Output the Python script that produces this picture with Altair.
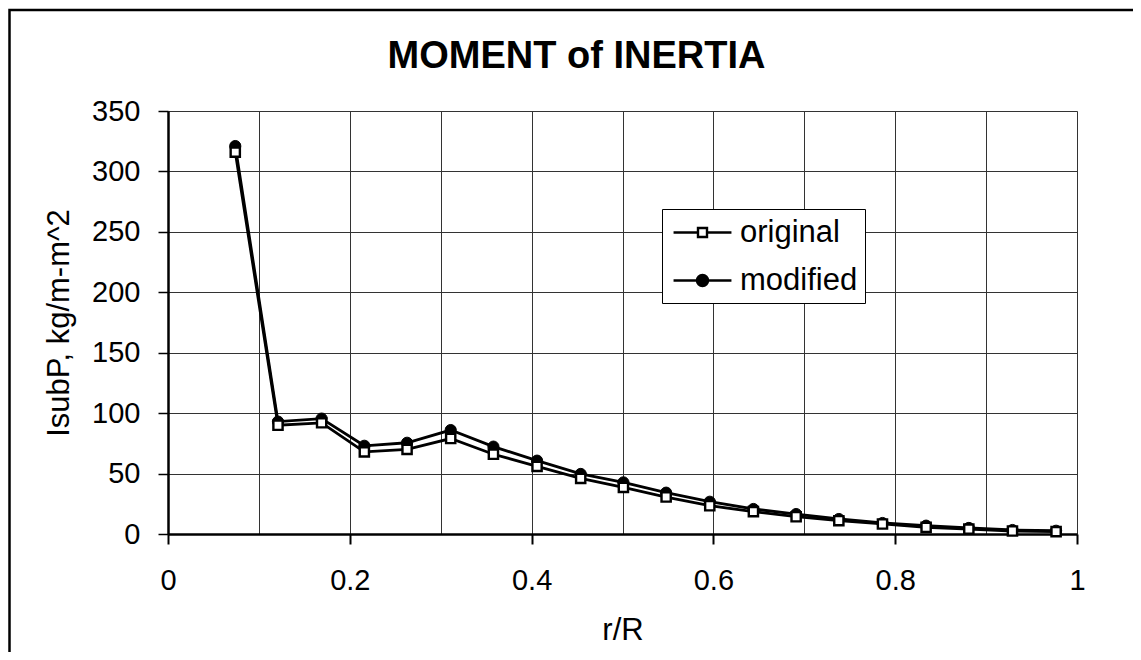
import altair as alt
import pandas as pd

# ---- data ----
R = [0.074, 0.121, 0.169, 0.216, 0.263, 0.311, 0.358, 0.406, 0.454, 0.501,
     0.548, 0.596, 0.644, 0.691, 0.738, 0.786, 0.834, 0.881, 0.929, 0.977]
ORIGINAL = [316, 90, 92, 68, 70, 79, 66, 56, 46, 38.6,
            30.6, 23.4, 18.5, 14.3, 11, 8.3, 5.5, 4, 2.5, 2]
MODIFIED = [321, 93, 95.5, 73, 75.5, 86, 72.3, 60.7, 49.7, 42.7,
            34.2, 26.7, 20.7, 16.5, 12.4, 9.1, 6.9, 5, 3.3, 2.7]
SERIES = ["original", "modified"]
X_TICKS = [0, 0.1, 0.2, 0.3, 0.4, 0.5, 0.6, 0.7, 0.8, 0.9, 1]
Y_TICKS = [0, 50, 100, 150, 200, 250, 300, 350]
TITLE = "MOMENT of INERTIA"
X_TITLE = "r/R"
Y_TITLE = "IsubP, kg/m-m^2"

FONT = "Liberation Sans"
W, H = 909, 423

df = pd.DataFrame({
    "r": R + R,
    "value": ORIGINAL + MODIFIED,
    "series": [SERIES[0]] * len(R) + [SERIES[1]] * len(R),
})

even_test = "round(datum.value*10) % 2 == 0"

x_axis = alt.Axis(
    values=X_TICKS, format=".1~f",
    labelExpr=f"({even_test}) ? datum.label : ''",
    tickOpacity={"condition": {"test": even_test, "value": 1}, "value": 0},
    grid=True, gridColor="#333333", gridWidth=1,
    tickColor="black", tickWidth=2, tickSize=10,
    domainColor="black", domainWidth=2.5,
    labelFont=FONT, labelFontSize=29, labelColor="black", labelPadding=22,
    labelFlush=False, labelOverlap=False,
    title=X_TITLE, titleFont=FONT, titleFontSize=31, titleFontWeight="normal",
    titleColor="black", titleBaseline="alphabetic", titleY=105,
)
y_axis = alt.Axis(
    values=Y_TICKS,
    grid=True, gridColor="#333333", gridWidth=1,
    tickColor="black", tickWidth=1.5, tickSize=10,
    domainColor="black", domainWidth=2.5,
    labelFont=FONT, labelFontSize=29, labelColor="black", labelPadding=18,
    labelOverlap=False,
    title=Y_TITLE, titleFont=FONT, titleFontSize=31, titleFontWeight="normal",
    titleColor="black", titleAngle=270, titleBaseline="alphabetic",
    titleX=-100, titleY=H / 2,
)

xs = alt.Scale(domain=[0, 1], nice=False)
ys = alt.Scale(domain=[0, 350], nice=False)

base = alt.Chart(df)
X = alt.X("r:Q", scale=xs, axis=x_axis)
Y = alt.Y("value:Q", scale=ys, axis=y_axis)

line_mod = base.transform_filter(alt.datum.series == SERIES[1]).mark_line(
    color="black", strokeWidth=2.8).encode(x=X, y=Y)
line_orig = base.transform_filter(alt.datum.series == SERIES[0]).mark_line(
    color="black", strokeWidth=2.8).encode(x=X, y=Y)
pts_mod = base.transform_filter(alt.datum.series == SERIES[1]).mark_point(
    shape="circle", filled=True, fill="black", stroke="black", strokeWidth=1,
    size=125, opacity=1).encode(x=X, y=Y)
pts_orig = base.transform_filter(alt.datum.series == SERIES[0]).mark_point(
    shape="square", filled=True, fill="white", stroke="black", strokeWidth=2.4,
    size=85, opacity=1).encode(x=X, y=Y)

# legend: symbols are a line with the marker on it
PATH_ORIG = "M-1.93,0H-0.3M0.3,0H1.93M-0.3,-0.3H0.3V0.3H-0.3Z"
PATH_MOD = ("M-1.93,0H1.93M0.37,0A0.37,0.37,0,1,1,-0.37,0"
            "A0.37,0.37,0,1,1,0.37,0Z")
legend = alt.Legend(
    title=None, orient="none", legendX=494, legendY=98,
    strokeColor="black", fillColor="white", padding=7,
    rowPadding=16, symbolOffset=17, labelOffset=21,
    labelFont=FONT, labelFontSize=31, labelColor="black",
    symbolSize=900, symbolStrokeWidth=2.4, symbolStrokeColor="black",
    symbolOpacity=1,
)
legend_layer = base.transform_filter(alt.datum.value < -1000).mark_point(
    filled=True, stroke="black", strokeWidth=2.4, opacity=1).encode(
    x=X, y=Y,
    shape=alt.Shape("series:N", scale=alt.Scale(domain=SERIES, range=[PATH_ORIG, PATH_MOD]),
                    legend=legend),
    fill=alt.Fill("series:N", scale=alt.Scale(domain=SERIES, range=["white", "black"]),
                  legend=legend),
    stroke=alt.Stroke("series:N", scale=alt.Scale(domain=SERIES, range=["black", "black"]),
                      legend=legend),
)

frame = alt.Chart(pd.DataFrame({"k": [0]})).mark_rect(
    filled=False, stroke="black", strokeWidth=2.5).encode(
    x=alt.value(-158.5), x2=alt.value(1500), y=alt.value(-101), y2=alt.value(1500))

chart = alt.layer(frame, line_mod, line_orig, pts_mod, pts_orig, legend_layer).properties(
    width=W, height=H,
    title=alt.TitleParams(TITLE, font=FONT, fontSize=38, fontWeight="bold", color="black",
                          anchor="middle", dx=-46, dy=139, offset=42, baseline="alphabetic"),
    autosize=alt.AutoSizeParams(type="none"),
    padding={"left": 160, "top": 103, "right": 56, "bottom": 118},
).configure_view(stroke="black", strokeWidth=2.5).configure(background="white")

chart.save("out.html", embed_options={"renderer": "svg", "actions": False})
